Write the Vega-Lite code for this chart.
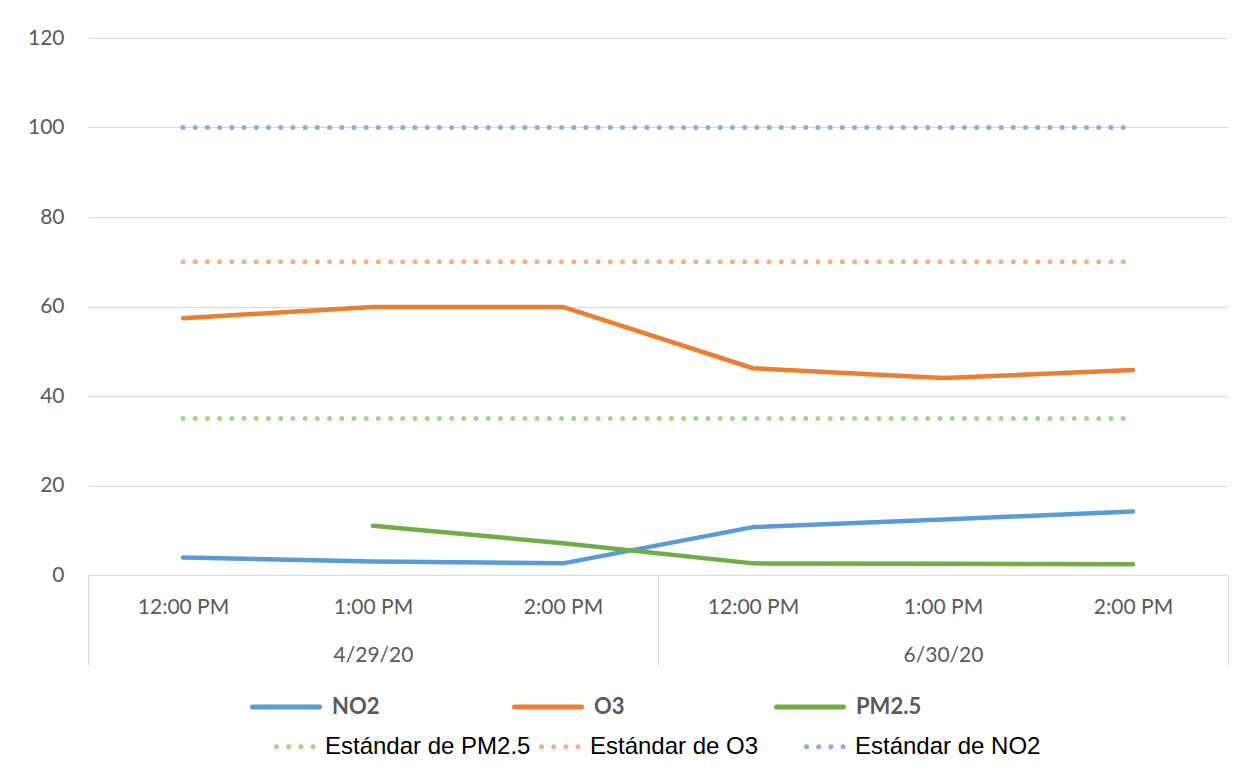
{
  "$schema": "https://vega.github.io/schema/vega-lite/v6.json",
  "width": 1140,
  "height": 537,
  "autosize": {"type": "none"},
  "padding": {"left": 88, "top": 38, "right": 29, "bottom": 209},
  "background": "white",
  "config": {"view": {"stroke": null}, "font": "Lato"},
  "layer": [
    {
      "data": {"values": [
        {"x": 0.5, "date": "4/29/20", "time": "12:00 PM", "series": "NO2", "value": 3.9},
        {"x": 1.5, "date": "4/29/20", "time": "1:00 PM", "series": "NO2", "value": 3.0},
        {"x": 2.5, "date": "4/29/20", "time": "2:00 PM", "series": "NO2", "value": 2.6},
        {"x": 3.5, "date": "6/30/20", "time": "12:00 PM", "series": "NO2", "value": 10.7},
        {"x": 4.5, "date": "6/30/20", "time": "1:00 PM", "series": "NO2", "value": 12.4},
        {"x": 5.5, "date": "6/30/20", "time": "2:00 PM", "series": "NO2", "value": 14.2},
        {"x": 0.5, "date": "4/29/20", "time": "12:00 PM", "series": "O3", "value": 57.4},
        {"x": 1.5, "date": "4/29/20", "time": "1:00 PM", "series": "O3", "value": 59.9},
        {"x": 2.5, "date": "4/29/20", "time": "2:00 PM", "series": "O3", "value": 59.9},
        {"x": 3.5, "date": "6/30/20", "time": "12:00 PM", "series": "O3", "value": 46.2},
        {"x": 4.5, "date": "6/30/20", "time": "1:00 PM", "series": "O3", "value": 44.0},
        {"x": 5.5, "date": "6/30/20", "time": "2:00 PM", "series": "O3", "value": 45.8},
        {"x": 1.5, "date": "4/29/20", "time": "1:00 PM", "series": "PM2.5", "value": 11.0},
        {"x": 2.5, "date": "4/29/20", "time": "2:00 PM", "series": "PM2.5", "value": 7.1},
        {"x": 3.5, "date": "6/30/20", "time": "12:00 PM", "series": "PM2.5", "value": 2.6},
        {"x": 4.5, "date": "6/30/20", "time": "1:00 PM", "series": "PM2.5", "value": 2.5},
        {"x": 5.5, "date": "6/30/20", "time": "2:00 PM", "series": "PM2.5", "value": 2.4}
      ]},
      "mark": {"type": "line", "strokeWidth": 4.5, "strokeCap": "round", "strokeJoin": "round"},
      "encoding": {
        "x": {
          "field": "x", "type": "quantitative",
          "scale": {"domain": [0, 6], "nice": false, "zero": false},
          "axis": {
            "title": null, "grid": false,
            "values": [0, 0.5, 1.5, 2.5, 3, 3.5, 4.5, 5.5, 6],
            "labelExpr": "datum.value == 0.5 || datum.value == 3.5 ? '12:00 PM' : datum.value == 1.5 || datum.value == 4.5 ? '1:00 PM' : datum.value == 2.5 || datum.value == 5.5 ? '2:00 PM' : ''",
            "domainColor": "#d9d9d9", "domainWidth": 1,
            "tickColor": "#d9d9d9", "tickWidth": 1, "tickSize": 90,
            "tickOpacity": {"condition": {"test": "datum.value % 3 != 0", "value": 0}, "value": 1},
            "labelPadding": -69, "labelFont": "Lato", "labelFontSize": 21, "labelColor": "#595959",
            "labelOverlap": false, "labelFlush": false
          }
        },
        "y": {
          "field": "value", "type": "quantitative",
          "scale": {"domain": [0, 120], "nice": false},
          "axis": {
            "title": null, "values": [0, 20, 40, 60, 80, 100, 120],
            "domain": false, "ticks": false, "gridColor": "#d9d9d9", "gridWidth": 1,
            "labelPadding": 24, "labelFont": "Lato", "labelFontSize": 21, "labelColor": "#595959"
          }
        },
        "color": {
          "field": "series", "type": "nominal",
          "scale": {"domain": ["NO2", "O3", "PM2.5"], "range": ["#5B9BD5", "#ED7D31", "#70AD47"]},
          "legend": {
            "title": null, "orient": "none", "legendX": 162, "legendY": 633,
            "direction": "horizontal", "columns": 3, "gridAlign": "all",
            "symbolType": "stroke", "symbolSize": 4489,
            "symbolStrokeWidth": 5, "labelOffset": 10, "columnPadding": 106,
            "labelFont": "Lato", "labelFontSize": 22, "labelFontWeight": "bold", "labelColor": "#595959",
            "labelLimit": 400, "padding": 0,
            "encode": {"symbols": {"update": {"strokeCap": {"value": "round"}}}}
          }
        }
      }
    },
    {
      "data": {"values": [
        {"x": 0.5, "std": "Estándar de PM2.5", "value": 35},
        {"x": 1.5, "std": "Estándar de PM2.5", "value": 35},
        {"x": 2.5, "std": "Estándar de PM2.5", "value": 35},
        {"x": 3.5, "std": "Estándar de PM2.5", "value": 35},
        {"x": 4.5, "std": "Estándar de PM2.5", "value": 35},
        {"x": 5.5, "std": "Estándar de PM2.5", "value": 35},
        {"x": 0.5, "std": "Estándar de O3", "value": 70},
        {"x": 1.5, "std": "Estándar de O3", "value": 70},
        {"x": 2.5, "std": "Estándar de O3", "value": 70},
        {"x": 3.5, "std": "Estándar de O3", "value": 70},
        {"x": 4.5, "std": "Estándar de O3", "value": 70},
        {"x": 5.5, "std": "Estándar de O3", "value": 70},
        {"x": 0.5, "std": "Estándar de NO2", "value": 100},
        {"x": 1.5, "std": "Estándar de NO2", "value": 100},
        {"x": 2.5, "std": "Estándar de NO2", "value": 100},
        {"x": 3.5, "std": "Estándar de NO2", "value": 100},
        {"x": 4.5, "std": "Estándar de NO2", "value": 100},
        {"x": 5.5, "std": "Estándar de NO2", "value": 100}
      ]},
      "mark": {"type": "line", "strokeWidth": 5, "strokeCap": "round", "strokeDash": [0.01, 12.2]},
      "encoding": {
        "x": {
          "field": "x", "type": "quantitative",
          "scale": {"domain": [0, 6], "nice": false, "zero": false},
          "axis": {
            "title": null, "grid": false, "orient": "bottom",
            "values": [1.5, 4.5],
            "labelExpr": "datum.value == 1.5 ? '4/29/20' : '6/30/20'",
            "domain": false, "ticks": false,
            "labelPadding": 69, "labelFont": "Lato", "labelFontSize": 21, "labelColor": "#595959",
            "labelOverlap": false, "labelFlush": false
          }
        },
        "y": {"field": "value", "type": "quantitative"},
        "stroke": {
          "field": "std", "type": "nominal",
          "scale": {"domain": ["Estándar de PM2.5", "Estándar de O3", "Estándar de NO2"], "range": ["#A9D18E", "#F4B183", "#8FAADC"]},
          "legend": {
            "title": null, "orient": "none", "legendX": 186, "legendY": 687,
            "direction": "horizontal", "columns": 3, "gridAlign": "all",
            "symbolType": "stroke", "symbolSize": 1444,
            "symbolStrokeWidth": 5, "symbolDash": [0.01, 12.2], "labelOffset": 8, "columnPadding": 0,
            "labelFont": "Liberation Sans", "labelFontSize": 24, "labelColor": "#000000",
            "labelLimit": 500, "padding": 0,
            "encode": {"symbols": {"update": {"strokeCap": {"value": "round"}}}}
          }
        }
      }
    }
  ],
  "resolve": {"scale": {"x": "independent", "color": "independent"}, "axis": {"x": "independent"}}
}
